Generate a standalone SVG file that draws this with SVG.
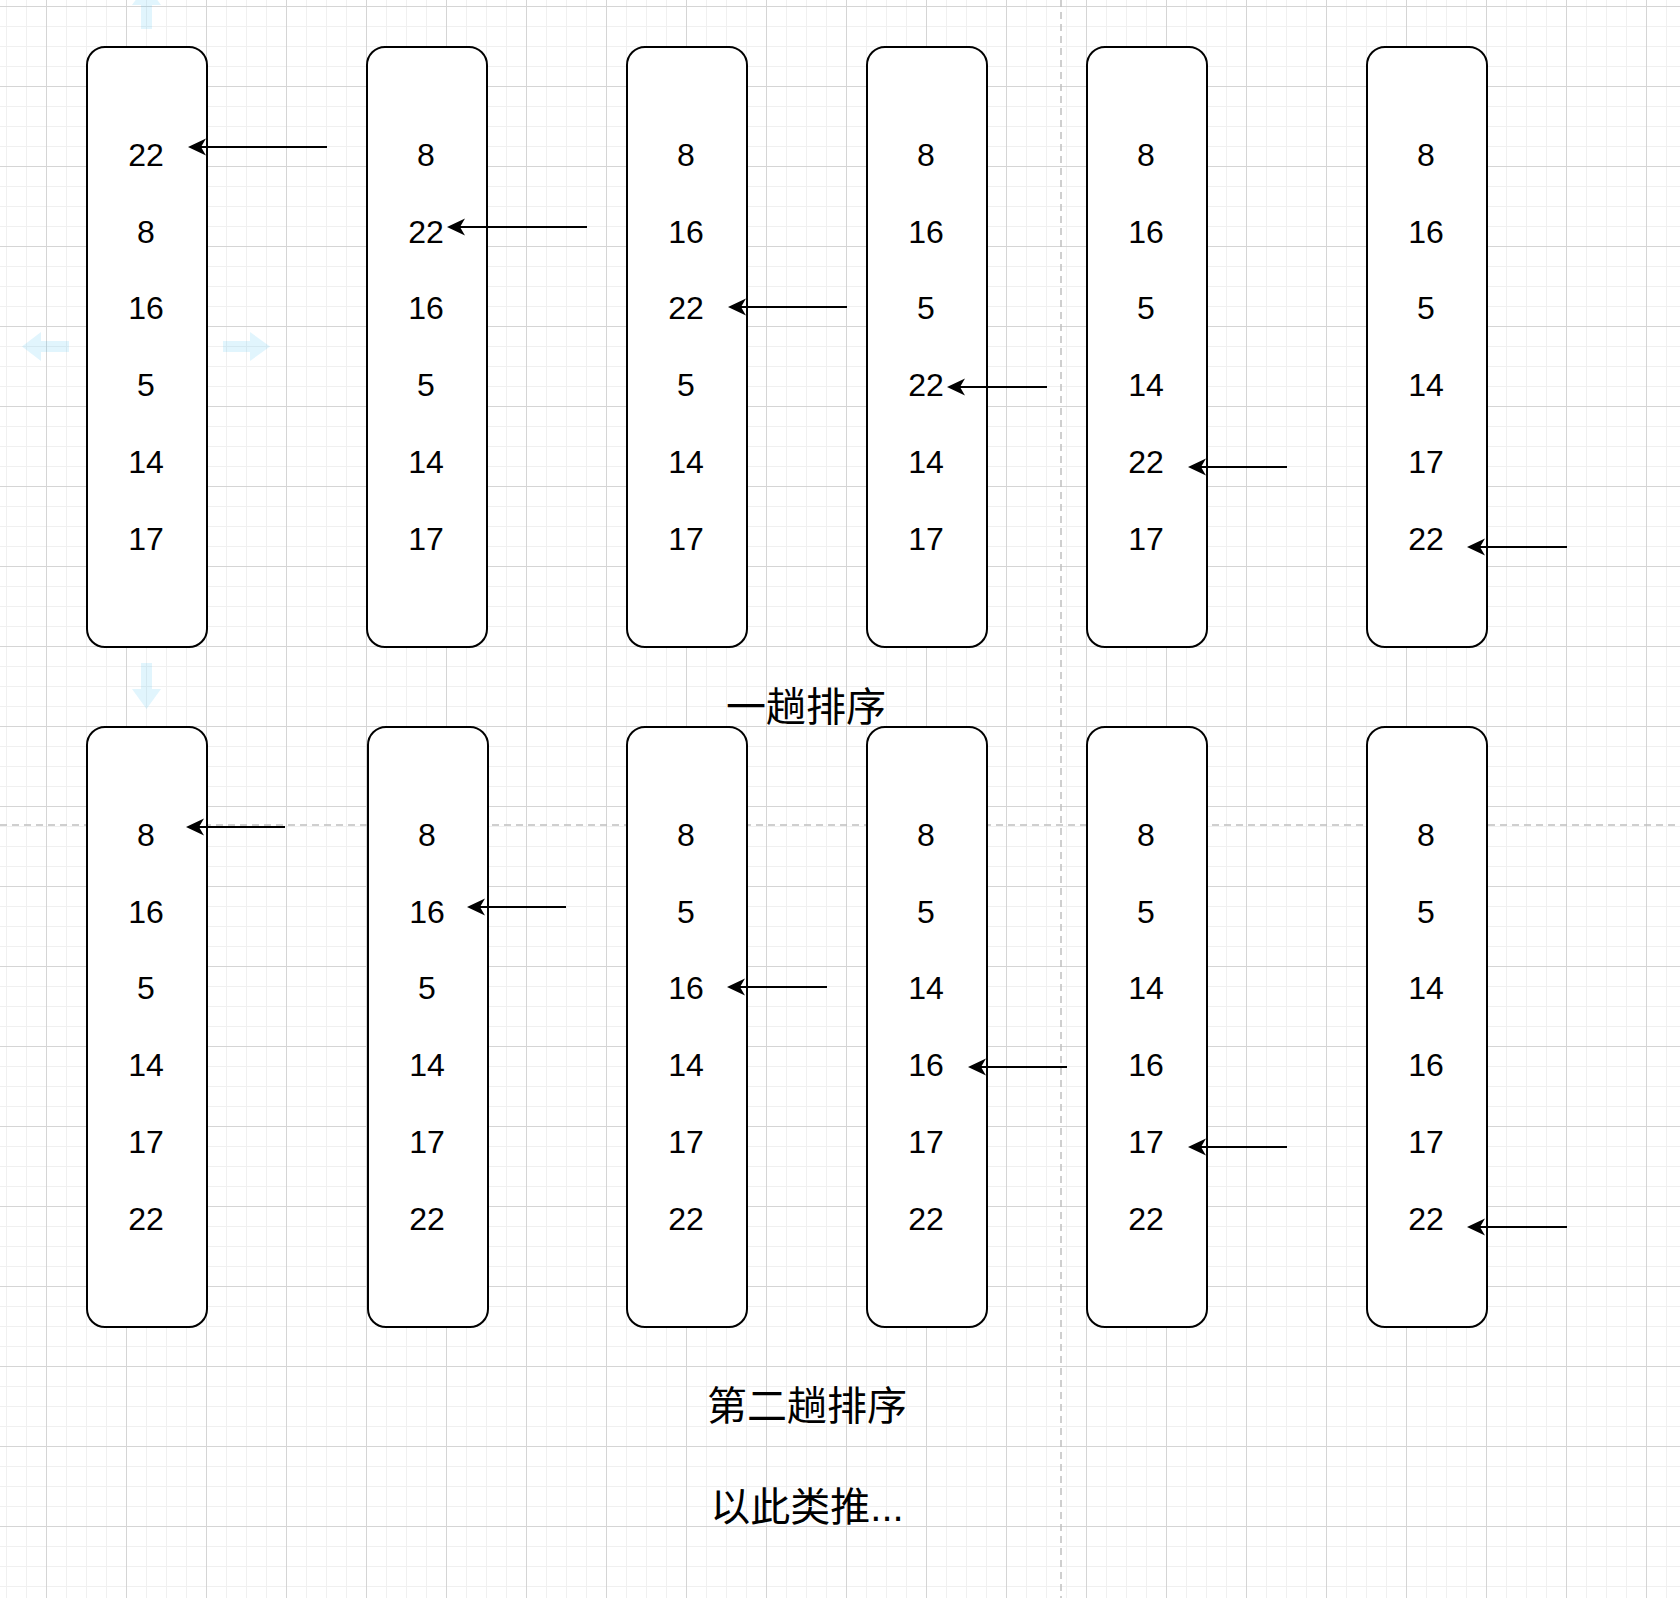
<svg xmlns="http://www.w3.org/2000/svg" width="1680" height="1598" viewBox="0 0 1680 1598">
<style>
.node rect{fill:#ffffff;stroke:#000000;stroke-width:2}
.num{font-family:"Liberation Sans",Arial,sans-serif;font-size:32px;fill:#000000;text-anchor:middle}
.lbl{font-family:"Liberation Sans","Noto Sans CJK SC",sans-serif;font-size:40px;fill:#000000;text-anchor:middle}
.edge{stroke:#000000;stroke-width:2;fill:none;marker-end:url(#arr)}
.hover{fill:#29b6f2;fill-opacity:0.14}
.dash{stroke:#c0c0c0;stroke-width:1.5;stroke-dasharray:7 5;fill:none}
</style>
<defs>
<pattern id="grid" x="-34" y="6" width="80" height="80" patternUnits="userSpaceOnUse">
<path d="M20.5,0V80M40.5,0V80M60.5,0V80M0,20.5H80M0,40.5H80M0,60.5H80" stroke="#f0f0f0" stroke-width="1" fill="none"/>
<path d="M0.5,0V80M0,0.5H80" stroke="#d5d5d5" stroke-width="1" fill="none"/>
</pattern>
<marker id="arr" markerUnits="userSpaceOnUse" markerWidth="24" markerHeight="20" viewBox="-6 -10 24 20" refX="0" refY="0" orient="auto" overflow="visible">
<path d="M13,0 L-5,-8.5 L0,0 L-5,8.5 Z" fill="#000000"/>
</marker>
</defs>
<rect x="0" y="0" width="1680" height="1598" fill="#ffffff"/>
<rect x="0" y="0" width="1680" height="1598" fill="url(#grid)"/>
<g id="page-breaks">
<line class="dash" x1="1061" y1="0" x2="1061" y2="1598"/>
<line class="dash" x1="0" y1="825" x2="1680" y2="825"/>
</g>
<g id="hover-arrows">
<path class="hover" d="M141,29 V5 H132 L146.5,-15 L161,5 H152 V29 Z"/>
<path class="hover" d="M141,663 V689 H132 L146.5,709 L161,689 H152 V663 Z"/>
<path class="hover" d="M69,341 H41 V332 L22,346.5 L41,361 V352 H69 Z"/>
<path class="hover" d="M223,341 H250 V332 L270,346.5 L250,361 V352 H223 Z"/>
</g>
<g id="node-r1c1" class="node"><rect x="87" y="47" width="120" height="600" rx="18"/>
<text class="num"><tspan x="146" y="165.7">22</tspan><tspan x="146" y="242.5">8</tspan><tspan x="146" y="319.3">16</tspan><tspan x="146" y="396.1">5</tspan><tspan x="146" y="472.9">14</tspan><tspan x="146" y="549.7">17</tspan></text></g>
<g id="node-r1c2" class="node"><rect x="367" y="47" width="120" height="600" rx="18"/>
<text class="num"><tspan x="426" y="165.7">8</tspan><tspan x="426" y="242.5">22</tspan><tspan x="426" y="319.3">16</tspan><tspan x="426" y="396.1">5</tspan><tspan x="426" y="472.9">14</tspan><tspan x="426" y="549.7">17</tspan></text></g>
<g id="node-r1c3" class="node"><rect x="627" y="47" width="120" height="600" rx="18"/>
<text class="num"><tspan x="686" y="165.7">8</tspan><tspan x="686" y="242.5">16</tspan><tspan x="686" y="319.3">22</tspan><tspan x="686" y="396.1">5</tspan><tspan x="686" y="472.9">14</tspan><tspan x="686" y="549.7">17</tspan></text></g>
<g id="node-r1c4" class="node"><rect x="867" y="47" width="120" height="600" rx="18"/>
<text class="num"><tspan x="926" y="165.7">8</tspan><tspan x="926" y="242.5">16</tspan><tspan x="926" y="319.3">5</tspan><tspan x="926" y="396.1">22</tspan><tspan x="926" y="472.9">14</tspan><tspan x="926" y="549.7">17</tspan></text></g>
<g id="node-r1c5" class="node"><rect x="1087" y="47" width="120" height="600" rx="18"/>
<text class="num"><tspan x="1146" y="165.7">8</tspan><tspan x="1146" y="242.5">16</tspan><tspan x="1146" y="319.3">5</tspan><tspan x="1146" y="396.1">14</tspan><tspan x="1146" y="472.9">22</tspan><tspan x="1146" y="549.7">17</tspan></text></g>
<g id="node-r1c6" class="node"><rect x="1367" y="47" width="120" height="600" rx="18"/>
<text class="num"><tspan x="1426" y="165.7">8</tspan><tspan x="1426" y="242.5">16</tspan><tspan x="1426" y="319.3">5</tspan><tspan x="1426" y="396.1">14</tspan><tspan x="1426" y="472.9">17</tspan><tspan x="1426" y="549.7">22</tspan></text></g>
<g id="node-r2c1" class="node"><rect x="87" y="727" width="120" height="600" rx="18"/>
<text class="num"><tspan x="146" y="845.7">8</tspan><tspan x="146" y="922.5">16</tspan><tspan x="146" y="999.3">5</tspan><tspan x="146" y="1076.1">14</tspan><tspan x="146" y="1152.9">17</tspan><tspan x="146" y="1229.7">22</tspan></text></g>
<g id="node-r2c2" class="node"><rect x="368" y="727" width="120" height="600" rx="18"/>
<text class="num"><tspan x="427" y="845.7">8</tspan><tspan x="427" y="922.5">16</tspan><tspan x="427" y="999.3">5</tspan><tspan x="427" y="1076.1">14</tspan><tspan x="427" y="1152.9">17</tspan><tspan x="427" y="1229.7">22</tspan></text></g>
<g id="node-r2c3" class="node"><rect x="627" y="727" width="120" height="600" rx="18"/>
<text class="num"><tspan x="686" y="845.7">8</tspan><tspan x="686" y="922.5">5</tspan><tspan x="686" y="999.3">16</tspan><tspan x="686" y="1076.1">14</tspan><tspan x="686" y="1152.9">17</tspan><tspan x="686" y="1229.7">22</tspan></text></g>
<g id="node-r2c4" class="node"><rect x="867" y="727" width="120" height="600" rx="18"/>
<text class="num"><tspan x="926" y="845.7">8</tspan><tspan x="926" y="922.5">5</tspan><tspan x="926" y="999.3">14</tspan><tspan x="926" y="1076.1">16</tspan><tspan x="926" y="1152.9">17</tspan><tspan x="926" y="1229.7">22</tspan></text></g>
<g id="node-r2c5" class="node"><rect x="1087" y="727" width="120" height="600" rx="18"/>
<text class="num"><tspan x="1146" y="845.7">8</tspan><tspan x="1146" y="922.5">5</tspan><tspan x="1146" y="999.3">14</tspan><tspan x="1146" y="1076.1">16</tspan><tspan x="1146" y="1152.9">17</tspan><tspan x="1146" y="1229.7">22</tspan></text></g>
<g id="node-r2c6" class="node"><rect x="1367" y="727" width="120" height="600" rx="18"/>
<text class="num"><tspan x="1426" y="845.7">8</tspan><tspan x="1426" y="922.5">5</tspan><tspan x="1426" y="999.3">14</tspan><tspan x="1426" y="1076.1">16</tspan><tspan x="1426" y="1152.9">17</tspan><tspan x="1426" y="1229.7">22</tspan></text></g>
<g id="connectors">
<line class="edge" x1="327" y1="147" x2="201" y2="147"/>
<line class="edge" x1="587" y1="227" x2="460" y2="227"/>
<line class="edge" x1="847" y1="307" x2="741" y2="307"/>
<line class="edge" x1="1047" y1="387" x2="960" y2="387"/>
<line class="edge" x1="1287" y1="467" x2="1201" y2="467"/>
<line class="edge" x1="1567" y1="547" x2="1480" y2="547"/>
<line class="edge" x1="285" y1="827" x2="199" y2="827"/>
<line class="edge" x1="566" y1="907" x2="480" y2="907"/>
<line class="edge" x1="827" y1="987" x2="740" y2="987"/>
<line class="edge" x1="1067" y1="1067" x2="981" y2="1067"/>
<line class="edge" x1="1287" y1="1147" x2="1201" y2="1147"/>
<line class="edge" x1="1567" y1="1227" x2="1480" y2="1227"/>
</g>
<g id="label-pass1"><text class="lbl" x="806" y="721">一趟排序</text></g>
<g id="label-pass2"><text class="lbl" x="807" y="1420">第二趟排序</text></g>
<g id="label-etc"><text class="lbl" x="807" y="1521">以此类推...</text></g>
</svg>
